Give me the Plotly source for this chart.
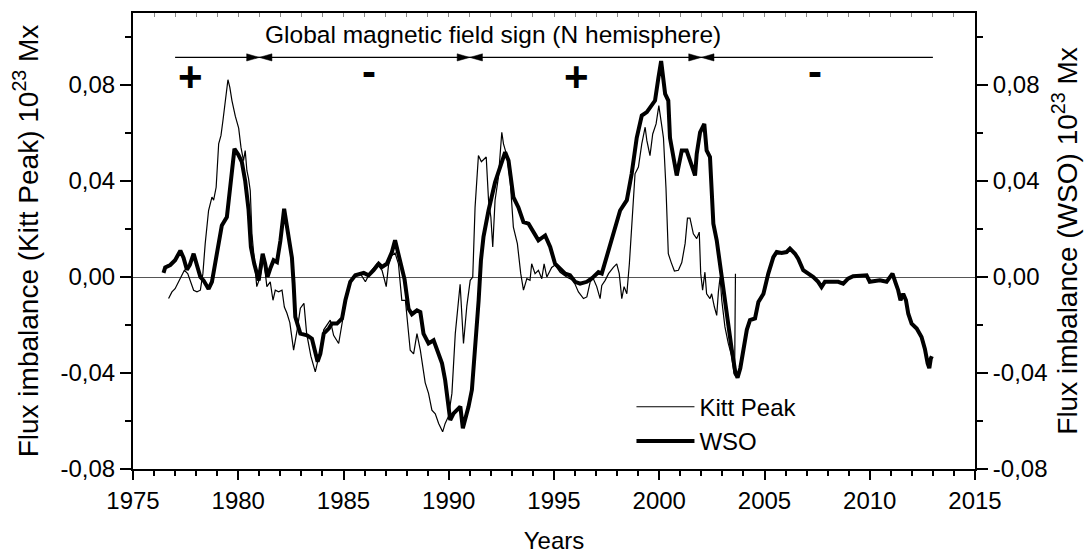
import plotly.graph_objects as go

# ---------------- data ----------------
kp_years = [1976.69, 1976.85, 1977.0, 1977.17, 1977.33, 1977.44, 1977.6, 1977.72, 1977.88, 1978.04,
            1978.2, 1978.32, 1978.43, 1978.59, 1978.75, 1978.83, 1978.95, 1979.07, 1979.18, 1979.27,
            1979.38, 1979.51, 1979.6, 1979.7, 1979.86, 1980.02, 1980.13, 1980.25, 1980.33, 1980.41,
            1980.49, 1980.57, 1980.65, 1980.8, 1980.88, 1981.04, 1981.2, 1981.36, 1981.52, 1981.65,
            1981.76, 1981.92, 1982.08, 1982.19, 1982.31, 1982.45, 1982.63, 1982.8, 1982.95, 1983.12,
            1983.25, 1983.45, 1983.66, 1983.9, 1984.06, 1984.37, 1984.53, 1984.77, 1984.93, 1985.17,
            1985.4, 1985.8, 1986.04, 1986.27, 1986.59, 1986.83, 1987.03, 1987.14, 1987.3, 1987.45,
            1987.61, 1987.77, 1987.94, 1988.17, 1988.33, 1988.49, 1988.65, 1988.88, 1989.04, 1989.2,
            1989.36, 1989.52, 1989.71, 1989.83, 1989.99, 1990.15, 1990.31, 1990.42, 1990.54, 1990.7,
            1990.86, 1991.02, 1991.14, 1991.25, 1991.41, 1991.55, 1991.65, 1991.78, 1991.89, 1992.0,
            1992.09, 1992.2, 1992.36, 1992.52, 1992.6, 1992.76, 1992.92, 1993.07, 1993.26, 1993.42,
            1993.55, 1993.71, 1993.86, 1993.94, 1994.1, 1994.26, 1994.42, 1994.53, 1994.66, 1994.89,
            1995.05, 1995.29, 1995.6, 1995.92, 1996.16, 1996.4, 1996.56, 1996.72, 1996.87, 1997.03,
            1997.19, 1997.27, 1997.43, 1997.59, 1997.82, 1997.98, 1998.1, 1998.22, 1998.33, 1998.46,
            1998.58, 1998.69, 1998.85, 1999.01, 1999.17, 1999.33, 1999.41, 1999.56, 1999.69, 1999.85,
            1999.98, 2000.12, 2000.2, 2000.32, 2000.43, 2000.57, 2000.72, 2000.91, 2001.07, 2001.23,
            2001.34, 2001.46, 2001.62, 2001.78, 2001.9, 2001.97, 2002.06, 2002.17, 2002.25, 2002.41,
            2002.49, 2002.62, 2002.73, 2002.81, 2002.89, 2002.97, 2003.12, 2003.28, 2003.44, 2003.55,
            2003.58, 2003.62]
kp_values = [-0.009, -0.0062, -0.0049, -0.002, 0.0014, 0.0028, 0.0014, -0.002, -0.0055, -0.0062,
             -0.0055, 0.0014, 0.0139, 0.0277, 0.0333, 0.032, 0.0374, 0.0555, 0.059, 0.065,
             0.0735, 0.0822, 0.079, 0.0735, 0.067, 0.062, 0.054, 0.0485, 0.0527, 0.0444,
             0.041, 0.036, 0.018, 0.004, -0.004, 0.0, 0.008, -0.004, -0.002, -0.0097,
             -0.0055, -0.0062, -0.0055, -0.0125, -0.015, -0.019, -0.0305, -0.022, -0.013, -0.011,
             -0.0236, -0.033, -0.0395, -0.0305, -0.022, -0.018, -0.0243, -0.0277, -0.02, -0.007,
             -0.0007, 0.0014, -0.002, 0.002, 0.0055, 0.0028, -0.004, 0.005, 0.009, 0.010,
             0.0055, -0.0097, -0.0097, -0.0305, -0.032, -0.0236, -0.0305, -0.044, -0.0485, -0.0555,
             -0.057, -0.061, -0.0645, -0.061, -0.058, -0.0485, -0.0236, -0.013, -0.003, -0.0277,
             -0.012, -0.0014, 0.0, 0.029, 0.0506, 0.048, 0.049, 0.05, 0.032, 0.025,
             0.0125, 0.032, 0.0416, 0.0603, 0.0555, 0.0506, 0.040, 0.0208, 0.0139, 0.0014,
             -0.0055, -0.0007, -0.0014, 0.0055, 0.0014, 0.0028, -0.0007, 0.0055, 0.0, 0.004,
             0.005, 0.002, 0.0, -0.0014, -0.0062, -0.009, -0.0083, -0.002, -0.0007, -0.004,
             -0.009, -0.0035, -0.0014, 0.0014, 0.004, 0.0055, 0.0014, -0.009, -0.004, -0.007,
             0.0055, 0.0208, 0.043, 0.0458, 0.0555, 0.0624, 0.0569, 0.0506, 0.0596, 0.0638,
             0.0714, 0.063, 0.058, 0.037, 0.0097, 0.006, 0.0025, 0.0028, 0.006, 0.014,
             0.0245, 0.0245, 0.018, 0.016, 0.0187, 0.0014, -0.0055, 0.002, -0.007, -0.009,
             -0.007, -0.0125, -0.016, -0.0062, 0.0, -0.0097, -0.0208, -0.0277, -0.033, -0.040,
             -0.041, 0.0014]

wso_years = [1976.45, 1976.53, 1976.77, 1977.0, 1977.25, 1977.4, 1977.56, 1977.7, 1977.88, 1978.04,
             1978.2, 1978.35, 1978.59, 1978.75, 1978.95, 1979.1, 1979.22, 1979.46, 1979.62, 1979.82,
             1980.0, 1980.17, 1980.33, 1980.49, 1980.6, 1980.76, 1980.97, 1981.04, 1981.16, 1981.28,
             1981.39, 1981.52, 1981.68, 1981.84, 1982.0, 1982.18, 1982.39, 1982.55, 1982.63, 1982.71,
             1982.95, 1983.27, 1983.5, 1983.66, 1983.77, 1983.9, 1984.06, 1984.3, 1984.45, 1984.69,
             1984.93, 1985.09, 1985.32, 1985.56, 1985.96, 1986.19, 1986.43, 1986.67, 1986.83, 1987.06,
             1987.3, 1987.45, 1987.6, 1987.69, 1987.9, 1988.09, 1988.25, 1988.49, 1988.65, 1988.8,
             1989.04, 1989.28, 1989.44, 1989.68, 1989.83, 1989.99, 1990.07, 1990.23, 1990.39, 1990.55,
             1990.67, 1990.78, 1990.94, 1991.1, 1991.26, 1991.42, 1991.53, 1991.65, 1991.89, 1992.2,
             1992.44, 1992.68, 1992.84, 1993.07, 1993.31, 1993.55, 1993.79, 1994.03, 1994.26, 1994.58,
             1994.82, 1995.05, 1995.29, 1995.53, 1995.76, 1996.0, 1996.24, 1996.56, 1996.87, 1997.11,
             1997.27, 1997.5, 1997.82, 1998.14, 1998.46, 1998.69, 1998.93, 1999.17, 1999.41, 1999.64,
             1999.8, 1999.96, 2000.09, 2000.28, 2000.43, 2000.51, 2000.67, 2000.83, 2001.07, 2001.3,
             2001.54, 2001.7, 2001.78, 2001.94, 2002.14, 2002.25, 2002.41, 2002.57, 2002.73, 2002.97,
             2003.2, 2003.44, 2003.62, 2003.72, 2003.85, 2004.0, 2004.16, 2004.31, 2004.55, 2004.71,
             2004.95, 2005.18, 2005.42, 2005.58, 2005.81, 2006.05, 2006.21, 2006.45, 2006.6, 2006.84,
             2007.08, 2007.32, 2007.55, 2007.71, 2007.87, 2008.19, 2008.5, 2008.74, 2008.97, 2009.21,
             2009.53, 2009.85, 2010.0, 2010.24, 2010.48, 2010.8, 2011.08, 2011.24, 2011.35, 2011.46,
             2011.59, 2011.72, 2011.83, 2011.99, 2012.23, 2012.46, 2012.62, 2012.75, 2012.83, 2012.9,
             2012.95]
wso_values = [0.0017, 0.004, 0.005, 0.007, 0.011, 0.008, 0.003, 0.005, 0.0097, 0.0055,
              0.0, -0.0014, -0.005, -0.002, 0.009, 0.015, 0.0215, 0.025, 0.039, 0.0534,
              0.051, 0.048, 0.040, 0.028, 0.0125, 0.0055, -0.0014, 0.0028, 0.0097, 0.0055,
              0.0, 0.0035, 0.007, 0.0062, 0.015, 0.0284, 0.018, 0.008, -0.0028, -0.0166,
              -0.0236, -0.0243, -0.0257, -0.0305, -0.0353, -0.032, -0.0236, -0.0215, -0.0194, -0.0194,
              -0.0173, -0.0097, -0.002, 0.0007, 0.0017, 0.0007, 0.0028, 0.0055, 0.0042, 0.0055,
              0.0104, 0.0153, 0.010, 0.006, -0.001, -0.0132, -0.0155, -0.0139, -0.0146, -0.0236,
              -0.0277, -0.0264, -0.0305, -0.036, -0.043, -0.054, -0.0596, -0.0568, -0.0555, -0.054,
              -0.063, -0.0596, -0.054, -0.047, -0.0305, -0.0097, 0.007, 0.0167, 0.0277, 0.0395,
              0.0458, 0.052, 0.0485, 0.0333, 0.029, 0.0229, 0.0222, 0.0187, 0.0153, 0.0173,
              0.0125, 0.0055, 0.0035, 0.0014, 0.0007, -0.002, -0.0028, -0.002, 0.0, 0.002,
              0.0014, 0.0083, 0.0167, 0.0277, 0.032, 0.043, 0.058, 0.0673, 0.0687, 0.0714,
              0.0735, 0.083, 0.090, 0.0763, 0.0735, 0.058, 0.050, 0.0423, 0.0527, 0.0527,
              0.0465, 0.0423, 0.0513, 0.0603, 0.0638, 0.0527, 0.050, 0.0222, 0.0153, 0.0,
              -0.0166, -0.030, -0.040, -0.042, -0.038, -0.030, -0.022, -0.018, -0.0173, -0.0104,
              -0.007, 0.0014, 0.0083, 0.0104, 0.010, 0.0104, 0.0118, 0.0097, 0.0076, 0.0028,
              0.0014, 0.0, -0.002, -0.0042, -0.002, -0.002, -0.002, -0.0028, -0.0007, 0.0003,
              0.0007, 0.0007, -0.002, -0.0017, -0.0014, -0.002, 0.0014, -0.0028, -0.0055, -0.0097,
              -0.007, -0.0097, -0.0153, -0.0194, -0.0215, -0.025, -0.030, -0.036, -0.038, -0.034,
              -0.033]

# tick labels
x_tickvals = [1975, 1980, 1985, 1990, 1995, 2000, 2005, 2010, 2015]
y_tickvals = [-0.08, -0.04, 0.0, 0.04, 0.08]
y_ticktext = ["-0,08", "-0,04", "0,00", "0,04", "0,08"]

# polarity periods of the global magnetic field (N hemisphere)
sign_bounds = [1977.0, 1981.0, 1991.0, 2002.0, 2013.0]
sign_labels = ["+", "-", "+", "-"]
sign_label_x = [1977.72, 1986.22, 1996.08, 2007.4]

FONT = "Arial, Liberation Sans, sans-serif"
X_RANGE = [1975, 2015]
Y_RANGE = [-0.08, 0.11]
ARROW_Y = 0.0915

fig = go.Figure()

fig.add_trace(go.Scatter(x=kp_years, y=kp_values, mode="lines", name="Kitt Peak",
                         line=dict(color="black", width=1.2), xaxis="x", yaxis="y"))
fig.add_trace(go.Scatter(x=wso_years, y=wso_values, mode="lines", name="WSO",
                         line=dict(color="black", width=4), xaxis="x", yaxis="y2"))

# arrow line spanning all polarity periods
fig.add_trace(go.Scatter(x=[sign_bounds[0], sign_bounds[-1]], y=[ARROW_Y, ARROW_Y], mode="lines",
                         line=dict(color="black", width=1.2), showlegend=False, hoverinfo="skip"))
# arrow heads at period boundaries (filled triangles)
head_len = 0.6
head_half = 0.0015
ax_x, ax_y = [], []
for b in sign_bounds[1:-1]:
    ax_x += [b - head_len, b, b - head_len, b - head_len, None]
    ax_y += [ARROW_Y + head_half, ARROW_Y, ARROW_Y - head_half, ARROW_Y + head_half, None]
    ax_x += [b + head_len, b, b + head_len, b + head_len, None]
    ax_y += [ARROW_Y + head_half, ARROW_Y, ARROW_Y - head_half, ARROW_Y + head_half, None]
fig.add_trace(go.Scatter(x=ax_x, y=ax_y, mode="lines", fill="toself", fillcolor="black",
                         line=dict(color="black", width=0.5), showlegend=False, hoverinfo="skip"))

# invisible trace to activate top tick axis
fig.add_trace(go.Scatter(x=[X_RANGE[0]], y=[0], xaxis="x2", yaxis="y", mode="markers",
                         marker=dict(opacity=0), showlegend=False, hoverinfo="skip"))

annotations = [
    dict(x=(sign_bounds[1] + sign_bounds[3]) / 2 + 0.6, y=0.101, xref="x", yref="y",
         text="Global magnetic field sign (N hemisphere)", showarrow=False,
         font=dict(family=FONT, size=24.5, color="black")),
]
for lbl, lx in zip(sign_labels, sign_label_x):
    annotations.append(dict(x=lx, y=0.0836 if lbl == "+" else 0.0858, xref="x", yref="y",
                            text="<b>%s</b>" % lbl, showarrow=False,
                            font=dict(family=FONT, size=42, color="black")))

axis_font = dict(family=FONT, size=24, color="black")
ytitle_font = dict(family=FONT, size=28, color="black")

fig.update_layout(
    width=1085, height=554,
    margin=dict(l=133, r=110, t=13, b=85, autoexpand=False),
    paper_bgcolor="white", plot_bgcolor="white",
    font=dict(family=FONT, size=24, color="black"),
    showlegend=True,
    legend=dict(x=0.592, y=0.185, xanchor="left", yanchor="top", bgcolor="rgba(0,0,0,0)",
                font=dict(family=FONT, size=24, color="black"), tracegroupgap=0, itemwidth=58),
    annotations=annotations,
    xaxis=dict(range=X_RANGE, tickvals=x_tickvals, ticks="outside", ticklen=9, tickwidth=1.5,
               tickcolor="black", showline=True, linecolor="black", linewidth=2, mirror=True,
               showgrid=False, zeroline=False, tickfont=axis_font, automargin=False,
               minor=dict(dtick=1, ticks="outside", ticklen=5, tickwidth=1.5, tickcolor="black"),
               title=dict(text="Years", font=axis_font, standoff=24)),
    xaxis2=dict(range=X_RANGE, overlaying="x", side="top", anchor="y", ticks="inside", dtick=1,
                ticklen=4, tickwidth=1, tickcolor="#888", showticklabels=False, showline=False,
                showgrid=False, zeroline=False, automargin=False),
    yaxis=dict(range=Y_RANGE, tickvals=y_tickvals, ticktext=y_ticktext, ticks="outside", ticklen=11,
               tickwidth=1.5, tickcolor="black", showline=True, linecolor="black", linewidth=2,
               showgrid=False, zeroline=True, zerolinecolor="#555", zerolinewidth=1,
               tickfont=axis_font, automargin=False,
               minor=dict(tickvals=[-0.06, -0.02, 0.02, 0.06, 0.10], ticks="outside", ticklen=6,
                          tickwidth=1.5, tickcolor="black"),
               title=dict(text="Flux imbalance (Kitt Peak) 10<sup>23</sup> Mx", font=ytitle_font, standoff=14)),
    yaxis2=dict(range=Y_RANGE, overlaying="y", side="right", anchor="x", tickvals=y_tickvals,
                ticktext=y_ticktext, ticks="outside", ticklen=11, tickwidth=1.5, tickcolor="black",
                showline=True, linecolor="black", linewidth=2, showgrid=False, zeroline=False,
                tickfont=axis_font, automargin=False,
                minor=dict(tickvals=[-0.06, -0.02, 0.02, 0.06, 0.10], ticks="outside", ticklen=6,
                           tickwidth=1.5, tickcolor="black"),
                title=dict(text="Flux imbalance (WSO) 10<sup>23</sup> Mx", font=ytitle_font, standoff=9)),
)

fig.write_html("out.html")
